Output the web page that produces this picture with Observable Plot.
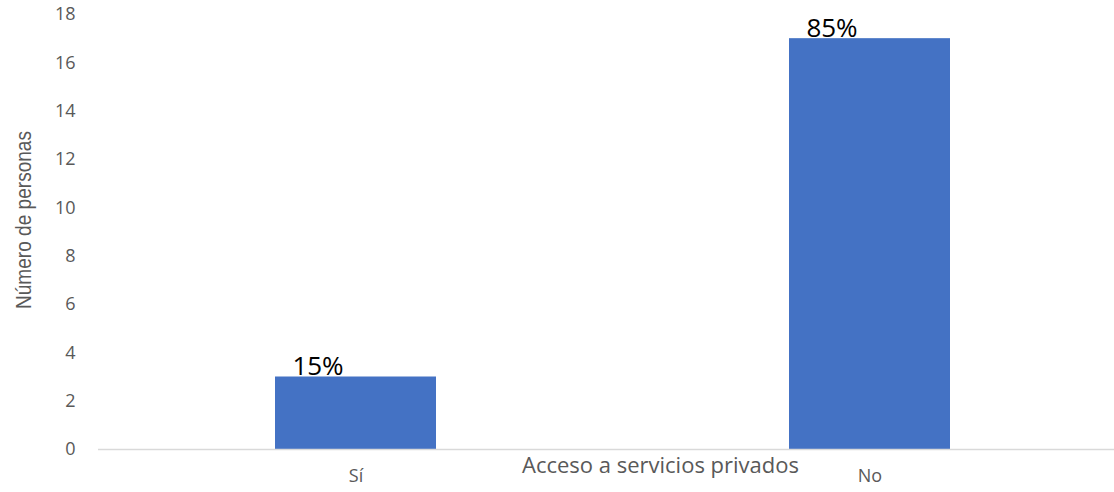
<!DOCTYPE html>
<html>
<head>
<meta charset="utf-8">
<script src="https://cdn.jsdelivr.net/npm/d3@7"></script>
<script src="https://cdn.jsdelivr.net/npm/@observablehq/plot@0.6"></script>
<style>
  body { margin: 0; background: #fff; }
  #chart svg { display: block; }
</style>
</head>
<body>
<div id="chart"></div>
<script>
const categories = ["Sí", "No"];
const counts = [3, 17];
const percentLabels = ["15%", "85%"];
const yTicks = [0, 2, 4, 6, 8, 10, 12, 14, 16, 18];
const xTitle = "Acceso a servicios privados";
const yTitle = "Número de personas";

const data = categories.map((c, i) => ({category: c, count: counts[i], label: percentLabels[i]}));

const chart = Plot.plot({
  width: 1114,
  height: 492,
  marginLeft: 98,
  marginRight: 0,
  marginTop: 14,
  marginBottom: 43,
  style: {fontFamily: "'Open Sans', sans-serif", background: "#fff", overflow: "visible"},
  x: {domain: categories, range: [98, 1126], paddingInner: 0.687, paddingOuter: 0.3435, label: null},
  y: {domain: [0, 18], ticks: yTicks, label: null},
  marks: [
    Plot.axisY({ticks: yTicks, tickSize: 0, tickPadding: 23, fontSize: 18, color: "#595959", label: null}),
    Plot.axisX({tickSize: 0, tickPadding: 20, fontSize: 18, color: "#595959", label: null}),
    Plot.barY(data, {x: "category", y: "count", fill: "#4472c4"}),
    Plot.text(data, {x: "category", y: "count", text: "label", fontSize: 26, fill: "#000",
      lineAnchor: "bottom", dy: -2, dx: -38}),
    Plot.ruleY([0], {stroke: "#d9d9d9", strokeWidth: 1.5}),
    Plot.text([xTitle], {frameAnchor: "bottom", lineAnchor: "top", dy: 8, dx: 54, fontSize: 22, fill: "#595959"}),
    Plot.text([yTitle], {frameAnchor: "left", rotate: -90, dx: -75, dy: -12, fontSize: 22,
      fill: "#595959", fontFamily: "'Liberation Sans', Arial, sans-serif", className: "ylab"})
  ]
});
chart.querySelectorAll('.ylab text').forEach(t => {
  t.setAttribute("text-anchor", "start");
  t.setAttribute("x", "-89");
  t.setAttribute("textLength", "178");
  t.setAttribute("lengthAdjust", "spacingAndGlyphs");
});
document.getElementById("chart").appendChild(chart);
</script>
</body>
</html>
